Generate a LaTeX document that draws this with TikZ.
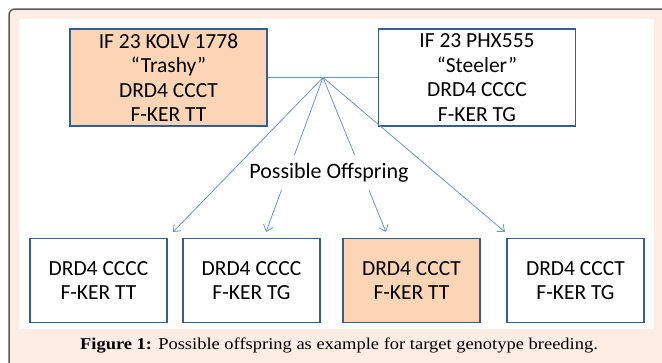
\documentclass[tikz,border=0pt]{standalone}
\usepackage{fontspec}
\setmainfont{Liberation Serif}[FakeStretch=1.12]
\newfontfamily\boxfont{Carlito}
\usetikzlibrary{calc,arrows.meta}

\definecolor{peach}{HTML}{FBD5B5}
\definecolor{boxline}{HTML}{385D8A}
\definecolor{linkblue}{HTML}{6D95C8}
\definecolor{framebg}{HTML}{FDEDE5}
\definecolor{framerule}{HTML}{5A5A5A}

\tikzset{
  genbox/.style={draw=boxline, line width=1.8pt, fill=white, align=center,
    inner sep=0pt, font=\boxfont\fontsize{21.5}{24.5}\selectfont},
  parentbox/.style={genbox, minimum width=197pt, minimum height=97pt},
  childbox/.style={genbox, minimum width=137pt, minimum height=84pt},
  link/.style={draw=linkblue, line width=0.8pt},
  offarrow/.style={link, -{Straight Barb[length=6pt,width=10pt]}},
}

\begin{document}
\begin{tikzpicture}[x=1pt,y=-1pt]
  \useasboundingbox (0,0) rectangle (662,362);
  \clip (0,0) rectangle (662,362);
  % frame of the figure
  \draw[fill=framebg, draw=framerule, line width=1.5pt, rounded corners=6pt]
        (9,9) rectangle (690,390);
  \fill[white] (19,19) rectangle (654,329);

  % parents
  \node[parentbox, fill=peach] (trashy) at (168.5,77.5)
        {IF 23 KOLV 1778\\“Trashy”\\DRD4 CCCT\\F-KER TT};
  \node[parentbox] (steeler) at (477,77.5)
        {IF 23 PHX555\\“Steeler”\\DRD4 CCCC\\F-KER TG};

  % offspring
  \node[childbox] (kid1) at (98.5,280.5) {DRD4 CCCC\\F-KER TT};
  \node[childbox] (kid2) at (251.5,280.5) {DRD4 CCCC\\F-KER TG};
  \node[childbox, fill=peach] (kid3) at (411.5,280.5) {DRD4 CCCT\\F-KER TT};
  \node[childbox] (kid4) at (575.5,280.5) {DRD4 CCCT\\F-KER TG};

  \node[font=\boxfont\fontsize{22}{24}\selectfont] (offspring) at (329,173)
        {Possible Offspring};

  \coordinate (cross) at (323,77.5);
  \coordinate (tip1) at (173,232);
  \coordinate (tip2) at (266,232);
  \coordinate (tip3) at (386,232);
  \coordinate (tip4) at (505,232);

  \draw[link] (trashy.east) -- (steeler.west);
  \draw[offarrow] (cross) -- (tip1);
  \draw[offarrow] (cross) -- (tip4);
  \draw[link] (cross) -- ($(cross)!0.5!(tip2)$);
  \draw[offarrow] ($(cross)!0.73!(tip2)$) -- (tip2);
  \draw[link] (cross) -- ($(cross)!0.5!(tip3)$);
  \draw[offarrow] ($(cross)!0.73!(tip3)$) -- (tip3);

  \node[font=\fontsize{16.5}{18}\selectfont] (caption) at (339,346)
        {\textbf{Figure 1:} Possible offspring as example for target genotype breeding.};
\end{tikzpicture}
\end{document}
